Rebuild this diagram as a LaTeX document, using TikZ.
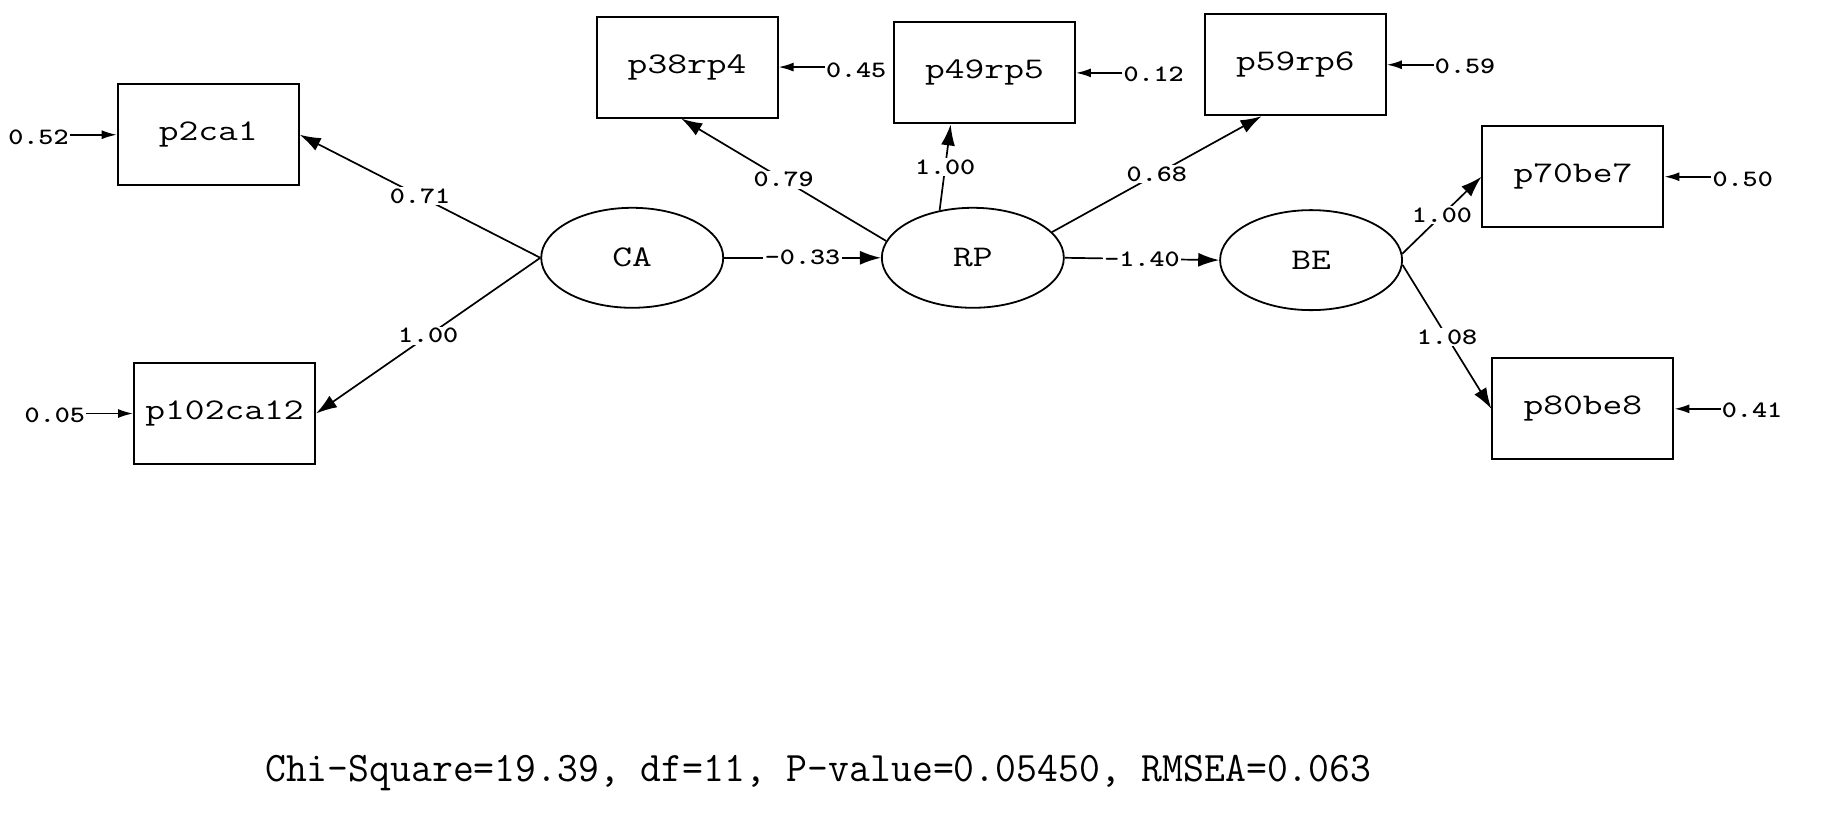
\documentclass[tikz,border=0pt]{standalone}
\usepackage{graphicx}
\usetikzlibrary{arrows.meta,calc,shapes.geometric}
\newcommand{\bxt}[1]{\scalebox{1.28}[1]{\fontsize{30}{30}\selectfont\ttfamily #1}}
\newcommand{\smt}[1]{\scalebox{1.22}[1]{\fontsize{23.5}{23.5}\selectfont\ttfamily\bfseries #1}}
\tikzset{
  obs/.style={draw, line width=2pt, minimum width=181pt, minimum height=101pt, inner sep=0pt},
  lat/.style={draw, ellipse, line width=1.8pt, minimum width=182pt, minimum height=100pt, inner sep=0pt},
  path/.style={line width=1.7pt, -{Latex[length=21pt,width=14pt]}},
  err/.style={line width=1.7pt, -{Latex[length=15pt,width=9pt]}},
  lab/.style={fill=white, inner sep=1.5pt},
  elab/.style={inner sep=1pt}
}
\begin{document}
\begin{tikzpicture}[x=1.1665pt,y=-1.1665pt]
\useasboundingbox (0,0) rectangle (1568,697);
% observed
\node[obs] (p2ca1) at (178.5,115.5) {\bxt{p2ca1}};
\node[obs] (p102ca12) at (192.5,354.5) {\bxt{p102ca12}};
\node[obs] (p38rp4) at (589,57.5) {\bxt{p38rp4}};
\node[obs] (p49rp5) at (844,62.5) {\bxt{p49rp5}};
\node[obs] (p59rp6) at (1110.5,55.5) {\bxt{p59rp6}};
\node[obs] (p70be7) at (1348.5,151.5) {\bxt{p70be7}};
\node[obs] (p80be8) at (1357,350.5) {\bxt{p80be8}};
% latent
\node[lat] (CA) at (542,221) {\bxt{CA}};
\node[lat] (RP) at (834,221) {\bxt{RP}};
\node[lat] (BE) at (1124,223) {\bxt{BE}};
% paths
\draw[path] (CA.west) -- node[lab]{\smt{0.71}} (p2ca1.east);
\draw[path] (CA.west) -- node[lab]{\smt{1.00}} (p102ca12.east);
\draw[path] (CA.east) -- node[lab]{\smt{-0.33}} (RP.west);
\draw[path] (RP.169) -- node[lab]{\smt{0.79}} ($(p38rp4.south)+(-5,0)$);
\draw[path] (RP.125) -- node[lab]{\smt{1.00}} ($(p49rp5.south)+(-29,0)$);
\draw[path] (RP.18) -- node[lab]{\smt{0.68}} ($(p59rp6.south)+(-29,0)$);
\draw[path] (RP.east) -- node[lab]{\smt{-1.40}} (BE.west);
\draw[path] (BE.4) -- node[lab]{\smt{1.00}} (p70be7.west);
\draw[path] (BE.-3) -- node[lab]{\smt{1.08}} (p80be8.west);
% errors
\node[elab] (e1) at (33,118) {\smt{0.52}};
\node[elab] (e2) at (47,356) {\smt{0.05}};
\node[elab] (e3) at (734,60) {\smt{0.45}};
\node[elab] (e4) at (989,64) {\smt{0.12}};
\node[elab] (e5) at (1256,57) {\smt{0.59}};
\node[elab] (e6) at (1494,154) {\smt{0.50}};
\node[elab] (e7) at (1502,352) {\smt{0.41}};
\draw[err] (e1.east |- p2ca1.west) -- (p2ca1.west);
\draw[err] (e2.east |- p102ca12.west) -- (p102ca12.west);
\draw[err] (e3.west |- p38rp4.east) -- (p38rp4.east);
\draw[err] (e4.west |- p49rp5.east) -- (p49rp5.east);
\draw[err] (e5.west |- p59rp6.east) -- (p59rp6.east);
\draw[err] (e6.west |- p70be7.east) -- (p70be7.east);
\draw[err] (e7.west |- p80be8.east) -- (p80be8.east);
% fit
\node[inner sep=0pt] (fit) at (701.5,663) {\scalebox{0.965}[1]{\fontsize{42}{42}\selectfont\ttfamily Chi-Square=19.39, df=11, P-value=0.05450, RMSEA=0.063}};
\end{tikzpicture}
\end{document}
